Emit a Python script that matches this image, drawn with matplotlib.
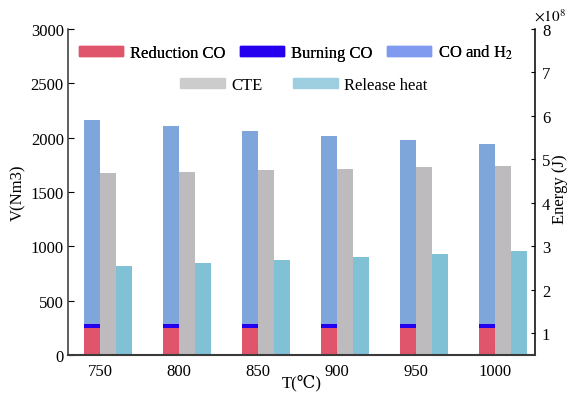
"""Gas volume and energy balance against reduction temperature."""

import matplotlib
matplotlib.use("Agg")
import matplotlib.pyplot as plt
import numpy as np
from matplotlib.patches import Patch
from matplotlib.ticker import FuncFormatter

plt.rcParams["font.family"] = ["Liberation Serif", "DejaVu Serif"]
plt.rcParams["mathtext.fontset"] = "stix"
plt.rcParams["font.size"] = 12

temperatures = ["750", "800", "850", "900", "950", "1000"]
# left axis, stacked volumes (Nm3)
reduction_co = [252, 250, 249, 247, 246, 245]
burning_co = [33, 34, 35, 37, 38, 40]
co_and_h2 = [1880, 1823, 1774, 1731, 1694, 1659]
# right axis, energies (J)
cte = [4.69e8, 4.72e8, 4.76e8, 4.78e8, 4.82e8, 4.85e8]
release_heat = [2.55e8, 2.62e8, 2.69e8, 2.75e8, 2.82e8, 2.89e8]

RED = "#E0546C"
BLUE = "#2400EE"
LIGHT_BLUE = "#7FA6DB"
GREY = "#BDBBBD"
CYAN = "#80C1D6"


def main():
    fig = plt.figure(figsize=(5.69, 4.02), dpi=100)
    ax = fig.add_axes([0.1195, 0.1144, 0.8207, 0.811])
    ax2 = ax.twinx()

    x = np.arange(len(temperatures))
    width = 0.2
    bottom_burning = np.array(reduction_co)
    bottom_mix = bottom_burning + np.array(burning_co)
    ax.bar(x - width / 2, reduction_co, width, color=RED)
    ax.bar(x - width / 2, burning_co, width, bottom=bottom_burning, color=BLUE)
    ax.bar(x - width / 2, co_and_h2, width, bottom=bottom_mix, color=LIGHT_BLUE)
    ax2.bar(x + width / 2, cte, width, color=GREY)
    ax2.bar(x + 3 * width / 2, release_heat, width, color=CYAN)

    ax.set_xlim(-0.405, 5.506)
    ax.set_ylim(0, 3000)
    ax2.set_ylim(0.5e8, 8e8)
    ax.set_yticks(range(0, 3001, 500))
    ax2.set_yticks(np.arange(1, 9) * 1e8)
    ax2.yaxis.set_major_formatter(FuncFormatter(lambda v, _: f"{v / 1e8:.0f}"))
    ax.set_xticks(x, temperatures)

    for side in ["top", "right", "bottom"]:
        ax.spines[side].set_visible(False)
    for side in ["top", "left"]:
        ax2.spines[side].set_visible(False)
    ax.spines["left"].set_color("#333333")
    ax.spines["left"].set_linewidth(1.1)
    ax2.spines["bottom"].set_color("#3a3a3a")
    ax2.spines["bottom"].set_linewidth(1.5)
    ax2.spines["right"].set_linewidth(1.1)

    ax.tick_params(axis="y", direction="in", length=4, pad=3)
    ax.tick_params(axis="x", direction="in", length=3.5, pad=6)
    ax2.tick_params(axis="y", direction="in", length=3, pad=5)

    ax.set_xlabel("T(℃)", labelpad=-4)
    ax.set_ylabel("V(Nm3)", labelpad=3)
    # the reference crops this label at the edge; keep it just inside the canvas
    fig.text(568 / 569, 1 - 189 / 402, "Energy (J)", rotation=90, ha="right", va="center")
    fig.text(534 / 569, 1 - 16 / 402, r"$\times10^{8}$", ha="left", va="center", fontsize=11)

    first_row = [Patch(color=RED), Patch(color=BLUE), Patch(color="#7F9AEF")]
    second_row = [Patch(color="#CCCCCC"), Patch(color="#9ECFE0")]
    legend_style = dict(frameon=False, loc="center", handlelength=2.65, handleheight=0.55,
                        handletextpad=0.4, borderpad=0, borderaxespad=0)
    top = fig.legend(first_row, ["Reduction CO", "Burning CO", r"CO and H$_2$"], ncol=3,
                     columnspacing=0.9, bbox_to_anchor=(296 / 569, 1 - 52.7 / 402), **legend_style)
    fig.add_artist(top)
    fig.legend(second_row, ["CTE", "Release heat"], ncol=2, columnspacing=1.85,
               bbox_to_anchor=(304 / 569, 1 - 86 / 402), **legend_style)

    fig.savefig("out.png", dpi=100)
    plt.close(fig)


if __name__ == "__main__":
    main()
